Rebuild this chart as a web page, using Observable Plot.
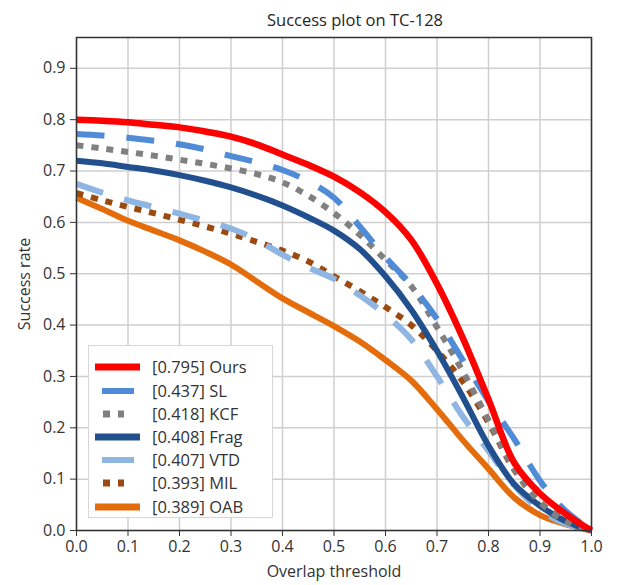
<!DOCTYPE html>
<html>
<head>
<meta charset="utf-8">
<script src="https://cdn.jsdelivr.net/npm/d3@7"></script>
<script src="https://cdn.jsdelivr.net/npm/@observablehq/plot@0.6"></script>
<style>
  body { margin: 0; background: #fff; font-family: "Open Sans", sans-serif; }
  #wrap { position: relative; width: 618px; padding-top: 30px; }
  #title { position: absolute; left: 0; top: 10px; width: 710px; text-align: center; font-size: 16.5px; line-height: 20px; color: #262626; white-space: nowrap; }
  #legend { position: absolute; left: 88px; top: 345px; width: 185px; height: 173px; background: #fff; border: 1.5px solid #d6d6d6; box-sizing: border-box; }
  .row { position: absolute; left: 0; height: 22px; width: 184px; }
  .row svg { position: absolute; left: 0; top: 0; }
  .row span { position: absolute; left: 63px; top: 0; font-size: 16.5px; line-height: 22px; color: #333; white-space: nowrap; }
</style>
</head>
<body>
<div id="wrap">
  <div id="title">Success plot on TC-128</div>
  <div id="chart"></div>
  <div id="legend"></div>
</div>
<script>
const thresholds = [0,0.05,0.1,0.15,0.2,0.25,0.3,0.35,0.4,0.45,0.5,0.55,0.6,0.65,0.7,0.75,0.8,0.85,0.9,0.95,1.0];
const ours = [0.800,0.798,0.795,0.790,0.785,0.777,0.767,0.752,0.732,0.712,0.689,0.659,0.620,0.566,0.480,0.375,0.255,0.132,0.072,0.032,0.0];
const sl   = [0.772,0.769,0.765,0.759,0.752,0.742,0.729,0.717,0.702,0.680,0.648,0.592,0.532,0.478,0.412,0.332,0.252,0.178,0.097,0.038,0.0];
const kcf  = [0.750,0.744,0.737,0.730,0.722,0.714,0.705,0.694,0.678,0.652,0.618,0.576,0.527,0.476,0.396,0.310,0.215,0.120,0.055,0.018,0.0];
const frag = [0.720,0.715,0.708,0.701,0.692,0.681,0.668,0.652,0.633,0.610,0.584,0.548,0.495,0.430,0.350,0.260,0.165,0.090,0.048,0.018,0.0];
const vtd  = [0.675,0.658,0.643,0.630,0.617,0.603,0.588,0.566,0.537,0.512,0.490,0.458,0.420,0.372,0.300,0.222,0.155,0.088,0.040,0.013,0.0];
const mil  = [0.657,0.643,0.630,0.618,0.605,0.592,0.578,0.562,0.545,0.524,0.495,0.466,0.435,0.400,0.350,0.290,0.210,0.118,0.055,0.020,0.0];
const oab  = [0.648,0.626,0.603,0.584,0.565,0.543,0.518,0.485,0.452,0.425,0.398,0.368,0.332,0.292,0.236,0.176,0.120,0.064,0.030,0.012,0.0];

const names  = ["Ours","SL","KCF","Frag","VTD","MIL","OAB"];
const scores = ["0.795","0.437","0.418","0.408","0.407","0.393","0.389"];
const values = [ours, sl, kcf, frag, vtd, mil, oab];
const colors = ["#ff0000","#4f8bd6","#808080","#22508e","#8fb5e3","#9c4a10","#e46c0a"];
const styles = ["solid","dash","dot","solid","dash","dot","solid"];

const xTicks = d3.range(0, 11).map(i => i / 10);
const yTicks = d3.range(0, 10).map(i => i / 10);

function dashFor(s) { return s === "dash" ? "28,22" : s === "dot" ? "7,8" : null; }

const marks = [
  Plot.gridX(xTicks, {stroke: "#cfcfcf", strokeOpacity: 1, strokeWidth: 1.5}),
  Plot.gridY(yTicks, {stroke: "#cfcfcf", strokeOpacity: 1, strokeWidth: 1.5}),
];
// draw so that "Ours" ends on top
for (let k = names.length - 1; k >= 0; k--) {
  const data = thresholds.map((t, i) => ({t, v: values[k][i]}));
  marks.push(Plot.line(data, {
    x: "t", y: "v", stroke: colors[k], strokeWidth: names[k] === "Ours" ? 6.5 : 6,
    strokeDasharray: dashFor(styles[k]),
    strokeLinecap: "butt", strokeLinejoin: "round",
    curve: "catmull-rom"
  }));
}
marks.push(
  Plot.frame({stroke: "#333", strokeWidth: 1.5}),
  Plot.axisX(xTicks, {tickFormat: d3.format(".1f"), tickSize: 6, tickPadding: 4, fontSize: 16, color: "#333",
    label: "Overlap threshold", labelAnchor: "center", labelArrow: "none", labelOffset: 46}),
  Plot.axisY(yTicks, {tickFormat: d3.format(".1f"), tickSize: 6, tickPadding: 5, fontSize: 16, color: "#333",
    label: "Success rate", labelAnchor: "center", labelArrow: "none", labelOffset: 58})
);

const chart = Plot.plot({
  width: 618, height: 555,
  marginTop: 7, marginBottom: 55, marginLeft: 76, marginRight: 27,
  style: {fontFamily: "Open Sans, sans-serif", fontSize: "16.5px", color: "#333", background: "#fff"},
  x: {domain: [0, 1]},
  y: {domain: [0, 0.96]},
  marks
});
document.getElementById("chart").appendChild(chart);

// legend
const legend = document.getElementById("legend");
const rowTops = [10, 34, 57, 80, 103, 126, 150];
names.forEach((n, k) => {
  const row = document.createElement("div");
  row.className = "row";
  row.style.top = rowTops[k] + "px";
  let sample;
  if (styles[k] === "solid") sample = `<line x1="6" x2="51" y1="11" y2="11" stroke="${colors[k]}" stroke-width="7"/>`;
  else if (styles[k] === "dash") sample = `<line x1="13" x2="45" y1="11" y2="11" stroke="${colors[k]}" stroke-width="6"/>`;
  else sample = `<line x1="14" x2="35" y1="11" y2="11" stroke="${colors[k]}" stroke-width="7" stroke-dasharray="7,8"/>`;
  row.innerHTML = `<svg width="60" height="22">${sample}</svg><span>[${scores[k]}] ${n}</span>`;
  legend.appendChild(row);
});
</script>
</body>
</html>
